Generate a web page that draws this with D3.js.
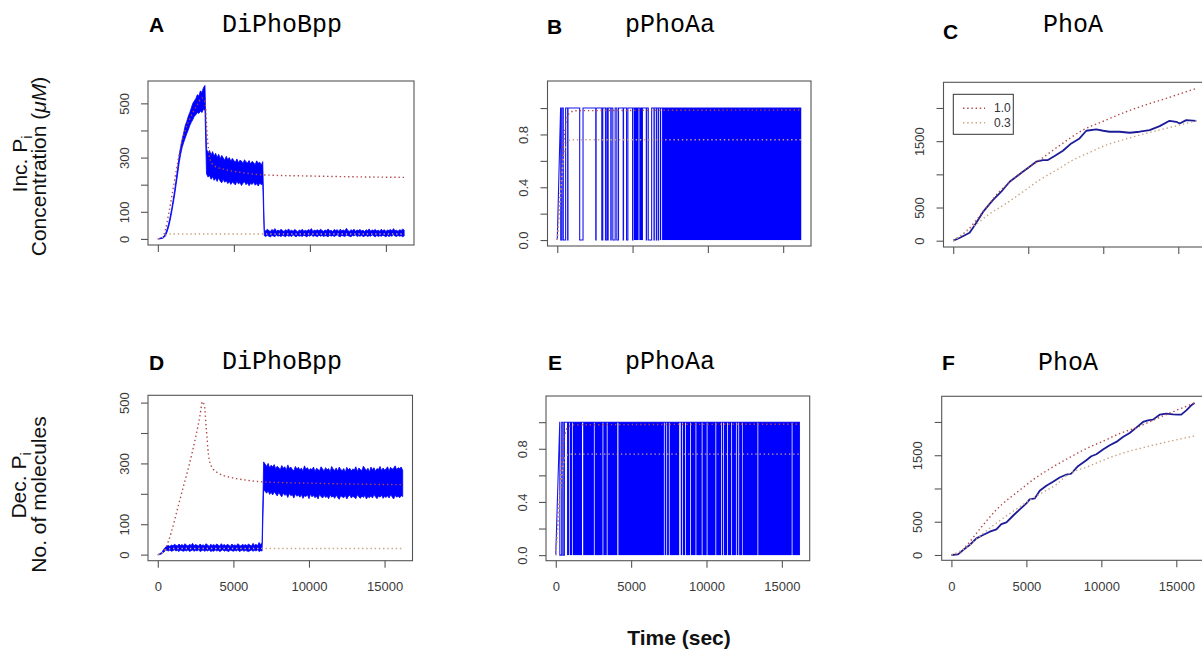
<!DOCTYPE html>
<html><head><meta charset="utf-8">
<script src="https://cdn.jsdelivr.net/npm/d3@7"></script>
<style>body{margin:0;background:#fff;overflow:hidden}</style>
</head><body><svg id="c" width="1202" height="656"></svg>
<script>
// ---------------- DATA ----------------
const timeTicks = [0, 5000, 10000, 15000];
const tickDiY = [0, 100, 200, 300, 400, 500];
const labelDiY = [0, 100, 300, 500];
const tickPY = [0, 0.2, 0.4, 0.6, 0.8, 1.0];
const labelPY = [0, 0.4, 0.8];
const tickPhoY = [0, 500, 1000, 1500, 2000];
const labelPhoY = [0, 500, 1500];
const legendLabels = ["1.0", "0.3"];
const TIME_STEP = 100; // sampling interval (s) of the stochastic traces

// Panel A (DiPhoBpp, increasing Pi) stochastic trace, upper / lower envelope
const A_riseStart = 0;
const A_riseHi = [0,2,4,6,10,19,35,54,80,108,142,178,218,262,305,340,368,392,418,433,452,466,483,500,509,518,532,527,546,540,558,566];
const A_riseLo = [0,0,1,2,5,11,25,42,66,95,127,160,200,238,280,312,338,356,372,388,402,418,430,440,452,458,466,463,472,466,478,474];
const A_bandStart = 3200;
const A_bandHi = [332,318,326,309,322,305,316,300,312,296,308,299,290,305,292,300,286,297,289,283,295,281,290,287,278,292,284,280,289,276,286,281,274,288,279,283,272,285];
const A_bandLo = [240,228,234,220,229,216,224,212,226,213,207,219,209,215,204,212,201,210,205,199,213,203,208,197,206,211,200,207,196,205,201,209,198,204,195,206,200,203];
const A_lowStart = 7000;
const A_lowHi = [34,29,36,31,27,35,30,38,28,33,29,36,31,27,34,30,37,29,32,28,35,31,26,33,30,36,28,32,29,35,31,38,27,33,30,34,29,36,31,28,33,30,37,29,32,27,35,31,34,28,36,30,33,29,39,31,27,34,30,36,28,33,31,35,29,32,27,34,30,37,28,33,31,35,29,32,28,36,30,34,27,33,31,35,29,38,30,32,28,34,31,36,33];
const A_lowLo = [12,9,14,10,7,13,11,8,15,10,12,9,13,11,8,14,10,12,9,15,11,8,13,10,12,9,14,11,8,13,10,15,9,12,11,8,14,10,13,9,12,11,8,14,10,13,9,12,15,10,8,13,11,9,14,12,10,8,13,11,15,9,12,10,14,8,11,13,9,12,10,15,11,8,13,9,12,10,14,11,8,13,9,12,10,15,11,9,13,10,12,8,11];
const A_model10 = [[0,0],[300,5],[500,35],[720,95],[1050,200],[1300,280],[1500,340],[1800,400],[2200,455],[2600,495],[2900,520],[3100,505],[3250,380],[3400,300],[3700,270],[4500,255],[5500,245],[7000,236],[10000,232],[13000,229],[16200,227]];
const A_model03 = [[0,0],[200,3],[400,10],[600,16],[900,18],[16200,18]];

// Panel D (DiPhoBpp, decreasing Pi)
const D_lowStart = 0;
const D_lowHi = [0,2,5,10,18,24,28,30,27,32,29,34,31,28,35,30,33,29,36,31,28,34,30,37,29,33,31,28,35,30,32,29,36,31,27,34,30,33,29,35,31,28,36,30,33,29,34,31,27,35,30,32,29,36,31,28,34,30,33,29,35,31,28,37,30,34,29,40,33,38];
const D_lowLo = [0,0,1,4,9,13,14,12,15,11,13,16,12,14,10,15,13,11,14,12,16,10,13,15,11,14,12,16,10,13,15,11,14,12,16,10,13,11,15,12,14,10,13,16,11,14,12,10,15,13,11,14,12,16,10,13,15,11,14,12,10,13,15,11,14,12,16,10,13,12];
const D_bandStart = 7000;
const D_bandHi = [305,298,290,300,285,294,288,296,282,291,286,279,293,284,289,277,295,283,288,280,276,290,282,287,278,285,274,292,281,286,277,283,279,288,273,284,280,276,289,282,275,286,279,283,272,290,281,277,285,274,288,280,276,283,271,287,279,284,275,282,278,289,273,285,280,276,291,283,277,284,272,288,279,286,274,283,280,290,276,285,278,282,289,275,287,281,284,292,279,286,283,288,277];
const D_bandLo = [215,208,202,210,198,205,196,207,200,193,204,197,190,203,195,199,188,201,194,197,186,200,192,196,189,198,185,194,191,197,184,199,190,195,187,193,183,198,191,186,195,188,192,184,197,189,193,185,196,188,182,194,190,187,195,183,191,196,186,192,189,184,197,190,185,193,188,195,183,191,187,194,186,198,190,184,193,189,196,185,192,188,194,186,197,190,183,195,189,192,187,194,191];
const D_model10 = [[0,0],[200,2],[500,20],[900,75],[1300,150],[1700,225],[2100,300],[2500,385],[2800,460],[2950,503],[3080,490],[3200,420],[3350,330],[3550,290],[4000,268],[5000,252],[6000,244],[7000,239],[10000,235],[13000,232],[16200,230]];
const D_model03 = [[0,0],[300,6],[600,17],[1000,20],[16200,20]];

// Panels B / E (pPhoAa, promoter state 0/1)
const B_ramp = [[0,0],[222,1]];
const B_zero = [[230,311],[400,556],[690,712],[1489,1711],[2556,2580],[2956,3022],[3200,3289],[3356,3380],[3556,3580],[3689,3844],[3956,4067],[4378,4400],[4600,4689],[5000,5022],[5911,5933],[6044,6267],[6422,6444],[6578,6600],[6711,6733]];
const B_dense = [[5089,5400],[5450,5689],[6822,6900],[6960,16200]];
const E_ramp = [[0,0],[264,1]];
const E_zero = [[270,396],[484,573]];
const E_dense = [[749,875],[925,1075],[1125,1740],[1820,2530],[2580,3105],[3155,3385],[3435,4085],[4155,7175],[7225,7335],[7385,7505],[7555,8190],[8290,8385],[8435,8585],[8635,8915],[8965,9275],[9325,9685],[9735,10015],[10065,10595],[10645,10965],[11015,11095],[11145,11365],[11415,11645],[11695,11955],[12005,12115],[12165,12360],[12400,13385],[13435,15655],[15705,16200]];
const P_END = 16200;
const P_model10 = [[0,0],[200,0.35],[400,0.7],[600,0.9],[800,0.96],[1200,0.98],[16200,0.985]];
const P_model03 = [[0,0],[200,0.3],[400,0.6],[700,0.75],[1000,0.76],[16200,0.76]];

// Panels C / F (PhoA)
const C_stoch = [[0,0],[420,40],[1090,120],[1420,230],[2000,437],[2640,612],[3200,738],[3760,888],[4200,964],[4640,1039],[5090,1114],[5530,1190],[5980,1215],[6310,1215],[6760,1275],[7310,1355],[7870,1466],[8420,1541],[8870,1657],[9530,1677],[10000,1657],[10420,1642],[11090,1642],[11760,1627],[12420,1642],[13090,1667],[13760,1727],[14420,1807],[14870,1792],[15090,1767],[15530,1817],[16200,1807]];
const C_model10 = [[0,0],[1000,170],[2000,440],[3000,720],[4000,930],[5000,1100],[5750,1215],[7000,1420],[8640,1667],[10000,1800],[11530,1943],[13000,2060],[14200,2144],[15200,2220],[16200,2294]];
const C_model03 = [[0,0],[1310,211],[2400,400],[3530,562],[4600,730],[5750,914],[7000,1080],[7980,1215],[9000,1320],[10200,1441],[11300,1520],[12420,1591],[13500,1655],[14640,1717],[16200,1807]];
const F_stoch = [[0,0],[440,10],[780,75],[1220,150],[1670,250],[2110,300],[2560,350],[3000,385],[3330,465],[3670,490],[4110,590],[4560,685],[5000,775],[5220,835],[5560,850],[5890,965],[6330,1040],[6780,1100],[7220,1165],[7670,1210],[8000,1225],[8440,1335],[9000,1425],[9330,1485],[9670,1515],[10110,1585],[10560,1650],[11000,1700],[11440,1775],[11890,1835],[12330,1915],[12780,2000],[13110,2025],[13440,2035],[13890,2110],[14330,2125],[14780,2115],[15110,2110],[15330,2110],[15670,2175],[16000,2250],[16220,2285]];
const F_model10 = [[0,0],[500,30],[1000,140],[2000,420],[3000,680],[4560,975],[5500,1140],[6780,1325],[8000,1480],[9000,1600],[10000,1700],[11220,1825],[12500,1930],[13440,2025],[15000,2175],[16220,2285]];
const F_model03 = [[0,0],[1000,110],[2000,300],[3000,480],[4000,640],[5000,790],[6000,930],[7000,1060],[7700,1200],[9000,1320],[11000,1500],[13440,1650],[16220,1790]];

// ---------------- STYLE / LAYOUT ----------------
const BLUE = "#0000ff", NAVY = "#1c1c98", RED = "#b04848", TAN = "#c8a482";
const AXIS = "#555", TXT = "#3a3a3a";
const X_DOMAIN = [-648, 16848];
const FONT = "Liberation Sans, Arial, sans-serif";

const svg = d3.select("#c");

function envelope(start, hi, lo) {
  const n = Math.min(hi.length, lo.length);
  return d3.range(n).map(i => ({t: start + i * TIME_STEP, hi: hi[i], lo: lo[i]}));
}

function panel(cfg) {
  const [x0, y0, x1, y1] = cfg.box;
  const x = d3.scaleLinear().domain(X_DOMAIN).range([x0, x1]);
  const y = d3.scaleLinear().domain(cfg.yDomain).range([y1, y0]);
  const g = svg.append("g");
  svg.append("text").attr("x", cfg.letterPos[0]).attr("y", cfg.letterPos[1])
    .attr("font-family", FONT).attr("font-weight", "bold")
    .attr("font-size", 21).attr("fill", "#000").text(cfg.letter);
  svg.append("text").attr("x", cfg.titlePos[0]).attr("y", cfg.titlePos[1])
    .attr("text-anchor", "middle")
    .attr("font-family", "Liberation Mono, Courier New, monospace")
    .attr("font-size", 25).attr("fill", "#000").text(cfg.title);
  return {x, y, g};
}

function finishPanel(p, cfg) {
  const [x0, y0, x1, y1] = cfg.box;
  p.g.append("rect").attr("x", x0).attr("y", y0).attr("width", x1 - x0).attr("height", y1 - y0)
    .attr("fill", "none").attr("stroke", AXIS).attr("stroke-width", 1.1);
  const ya = p.g.append("g").attr("transform", `translate(${x0},0)`)
    .call(d3.axisLeft(p.y).tickValues(cfg.yTicks).tickSize(7)
      .tickFormat(d => cfg.yLabels.includes(d) ? cfg.yFmt(d) : ""));
  ya.select(".domain").remove();
  ya.selectAll("line").attr("stroke", AXIS).attr("stroke-width", 1.1);
  ya.selectAll("text").attr("x", null).attr("dy", null)
    .attr("transform", "translate(-19.5,0) rotate(-90)")
    .attr("text-anchor", "middle")
    .attr("font-family", FONT).attr("font-size", 13).attr("fill", TXT);
  const xa = p.g.append("g").attr("transform", `translate(0,${y1})`)
    .call(d3.axisBottom(p.x).tickValues(timeTicks).tickSize(7).tickPadding(14)
      .tickFormat(d => cfg.xLabels ? d3.format("d")(d) : ""));
  xa.select(".domain").remove();
  xa.selectAll("line").attr("stroke", AXIS).attr("stroke-width", 1.1);
  xa.selectAll("text").attr("font-family", FONT).attr("font-size", 13).attr("fill", TXT);
}

function dotted(p, pts, color) {
  p.g.append("path").datum(pts)
    .attr("d", d3.line().x(d => p.x(d[0])).y(d => p.y(d[1])).curve(d3.curveMonotoneX))
    .attr("fill", "none").attr("stroke", color).attr("stroke-width", 1.4)
    .attr("stroke-dasharray", "1.4,2.8");
}

function noisy(p, pts) {
  p.g.append("path").datum(pts)
    .attr("d", d3.area().x(d => p.x(d.t)).y0(d => p.y(d.lo)).y1(d => p.y(d.hi)))
    .attr("fill", BLUE).attr("stroke", BLUE).attr("stroke-width", 0.8).attr("stroke-linejoin", "miter");
}

function binary(p, ramp, zeros, dense) {
  const pts = ramp.slice();
  zeros.forEach(([s, e]) => pts.push([s, 1], [s, 0], [e, 0], [e, 1]));
  pts.push([P_END, 1]);
  p.g.append("path").datum(pts)
    .attr("d", d3.line().x(d => p.x(d[0])).y(d => p.y(d[1])))
    .attr("fill", "none").attr("stroke", "#1414ee").attr("stroke-width", 1.1);
  p.g.selectAll(null).data(dense).enter().append("rect")
    .attr("x", d => p.x(d[0])).attr("width", d => Math.max(1, p.x(d[1]) - p.x(d[0])))
    .attr("y", p.y(1)).attr("height", p.y(0) - p.y(1)).attr("fill", BLUE);
}

function smoothLine(p, pts, color) {
  p.g.append("path").datum(pts)
    .attr("d", d3.line().x(d => p.x(d[0])).y(d => p.y(d[1])))
    .attr("fill", "none").attr("stroke", color).attr("stroke-width", 1.8).attr("stroke-linejoin", "round");
}

const fmtInt = d => d3.format("d")(d);
const fmt1 = d => d3.format(".1f")(d);

// ---------- Panel A ----------
const cfgA = {box:[148,81,414,245], yDomain:[-22.4,582.4], yTicks:tickDiY, yLabels:labelDiY, yFmt:fmtInt, xLabels:false,
  letter:"A", letterPos:[149,32], title:"DiPhoBpp", titlePos:[282,32]};
const pA = panel(cfgA);
noisy(pA, envelope(A_riseStart, A_riseHi, A_riseLo).concat(envelope(A_bandStart, A_bandHi, A_bandLo), envelope(A_lowStart, A_lowHi, A_lowLo)));
dotted(pA, A_model10, RED);
dotted(pA, A_model03, TAN);
finishPanel(pA, cfgA);

// ---------- Panel B ----------
const cfgB = {box:[547.5,81,811,246], yDomain:[-0.045,1.205], yTicks:tickPY, yLabels:labelPY, yFmt:fmt1, xLabels:false,
  letter:"B", letterPos:[547,34], title:"pPhoAa", titlePos:[670,32]};
const pB = panel(cfgB);
binary(pB, B_ramp, B_zero, B_dense);
dotted(pB, P_model10, RED);
dotted(pB, P_model03, TAN);
finishPanel(pB, cfgB);

// ---------- Panel C ----------
const cfgC = {box:[943.5,82.3,1206,247], yDomain:[-95,2387], yTicks:tickPhoY, yLabels:labelPhoY, yFmt:fmtInt, xLabels:false,
  letter:"C", letterPos:[943,38.5], title:"PhoA", titlePos:[1073,32]};
const pC = panel(cfgC);
smoothLine(pC, C_stoch, NAVY);
dotted(pC, C_model10, RED);
dotted(pC, C_model03, TAN);
finishPanel(pC, cfgC);
const lg = pC.g.append("g");
lg.append("rect").attr("x", 953.3).attr("y", 94.3).attr("width", 60).attr("height", 40)
  .attr("fill", "#fff").attr("stroke", "#333").attr("stroke-width", 1);
[[RED, 108.3], [TAN, 122.7]].forEach(([col, yy], i) => {
  lg.append("line").attr("x1", 963).attr("x2", 985).attr("y1", yy).attr("y2", yy)
    .attr("stroke", col).attr("stroke-width", 1.4).attr("stroke-dasharray", "1.4,2.8");
  lg.append("text").attr("x", 994).attr("y", yy + 4).attr("font-family", FONT)
    .attr("font-size", 12).attr("fill", "#333").text(legendLabels[i]);
});

// ---------- Panel D ----------
const cfgD = {box:[148,395.3,412.5,560.7], yDomain:[-20,524], yTicks:tickDiY, yLabels:labelDiY, yFmt:fmtInt, xLabels:true,
  letter:"D", letterPos:[149,369.5], title:"DiPhoBpp", titlePos:[282,369]};
const pD = panel(cfgD);
noisy(pD, envelope(D_lowStart, D_lowHi, D_lowLo).concat(envelope(D_bandStart, D_bandHi, D_bandLo)));
dotted(pD, D_model10, RED);
dotted(pD, D_model03, TAN);
finishPanel(pD, cfgD);

// ---------- Panel E ----------
const cfgE = {box:[546,396,809.7,560.7], yDomain:[-0.042,1.197], yTicks:tickPY, yLabels:labelPY, yFmt:fmt1, xLabels:true,
  letter:"E", letterPos:[548,369.5], title:"pPhoAa", titlePos:[670,369]};
const pE = panel(cfgE);
binary(pE, E_ramp, E_zero, E_dense);
dotted(pE, P_model10, RED);
dotted(pE, P_model03, TAN);
finishPanel(pE, cfgE);

// ---------- Panel F ----------
const cfgF = {box:[941.7,396.3,1204,560.3], yDomain:[-80,2386], yTicks:tickPhoY, yLabels:labelPhoY, yFmt:fmtInt, xLabels:true,
  letter:"F", letterPos:[942,370], title:"PhoA", titlePos:[1068,370]};
const pF = panel(cfgF);
smoothLine(pF, F_stoch, NAVY);
dotted(pF, F_model10, RED);
dotted(pF, F_model03, TAN);
finishPanel(pF, cfgF);

// ---------- Row / axis titles ----------
function rowLabel(xb, yc, main, sub, italic) {
  const t = svg.append("text").attr("transform", `translate(${xb},${yc}) rotate(-90)`)
    .attr("text-anchor", "middle").attr("font-family", FONT).attr("font-size", 21).attr("fill", "#111");
  t.append("tspan").text(main);
  if (sub) t.append("tspan").attr("font-size", 14).attr("dy", 5).text(sub);
  if (italic) {
    t.append("tspan").attr("font-style", "italic").text(italic);
    t.append("tspan").text(")");
  }
}
rowLabel(27, 164, "Inc. P", "i");
rowLabel(46, 166.5, "Concentration (", null, "\u03bcM");
rowLabel(26, 485.5, "Dec. P", "i");
rowLabel(46, 494.5, "No. of molecules");

svg.append("text").attr("x", 679).attr("y", 645).attr("text-anchor", "middle")
  .attr("font-family", FONT).attr("font-weight", "bold").attr("font-size", 21).attr("fill", "#111")
  .text("Time (sec)");
</script></body></html>
